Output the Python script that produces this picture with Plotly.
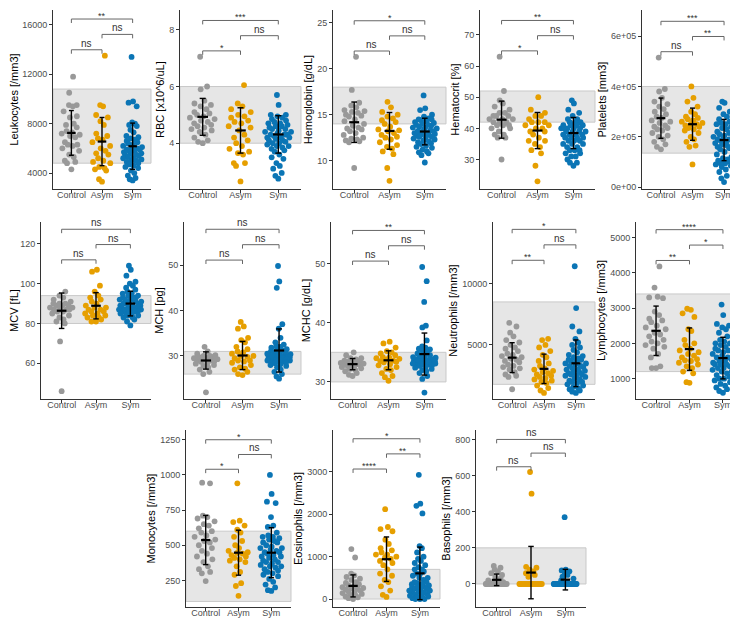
import numpy as np
import plotly.graph_objects as go

W, H = 738, 620
GROUPS = ["Control", "Asym", "Sym"]
GROUP_COLORS = ["#999999", "#E69F00", "#0B75B5"]
FONT = "Arial, Liberation Sans, sans-serif"

# ---------------- data ----------------
LEUK_CONTROL = [11800, 10500, 9500, 9500, 9400, 9000, 8600, 8500, 8000, 7900, 7700, 7400, 7300, 7200, 7100, 7000, 6900, 6500, 6300, 6300, 6200, 6000, 5800, 5500, 5300, 5000, 4900, 4800, 4300]
LEUK_ASYM = [13500, 9500, 9400, 8700, 8500, 8200, 7900, 7200, 7000, 6800, 6700, 6500, 6200, 6000, 5800, 5600, 5500, 5200, 5000, 4900, 4800, 4500, 4400, 4300, 4200, 3500, 3300]
LEUK_SYM = [13400, 9800, 9700, 9400, 8100, 8000, 7900, 7800, 7500, 7300, 7000, 6900, 6800, 6700, 6600, 6500, 6400, 6300, 6200, 6100, 6000, 6000, 5900, 5800, 5700, 5600, 5500, 5500, 5400, 5300, 5200, 5100, 5000, 5000, 4900, 4800, 4700, 4600, 4500, 4400, 4200, 4000, 3800, 3600, 3500, 3400, 5800, 5600, 5200, 5900]
LEUK_MEAN = [7250, 6550, 6170]
LEUK_SD = [1810, 1950, 1875]

RBC_CONTROL = [7.05, 6.0, 5.9, 5.5, 5.4, 5.35, 5.3, 5.2, 5.1, 5.05, 5.0, 4.95, 4.9, 4.85, 4.8, 4.75, 4.7, 4.65, 4.6, 4.55, 4.5, 4.45, 4.4, 4.3, 4.2, 4.1, 4.05, 4.0]
RBC_ASYM = [6.05, 5.4, 5.3, 5.2, 5.1, 5.0, 4.95, 4.9, 4.8, 4.7, 4.6, 4.55, 4.45, 4.3, 4.2, 4.1, 4.0, 3.9, 3.8, 3.7, 3.65, 3.6, 3.3, 3.3, 3.2, 2.65, 4.75]
RBC_SYM = [5.7, 5.35, 5.0, 5.0, 4.95, 4.9, 4.85, 4.8, 4.75, 4.7, 4.65, 4.6, 4.55, 4.5, 4.5, 4.45, 4.4, 4.4, 4.35, 4.3, 4.3, 4.25, 4.2, 4.2, 4.15, 4.1, 4.1, 4.05, 4.0, 4.0, 3.95, 3.9, 3.85, 3.8, 3.75, 3.7, 3.6, 3.5, 3.45, 3.3, 3.2, 3.1, 2.95, 2.85, 2.75, 4.6, 4.7, 4.3, 4.2, 3.9]
RBC_MEAN = [4.93, 4.45, 4.31]
RBC_SD = [0.65, 0.8, 0.66]

HGB_CONTROL = [21.3, 17.7, 16.3, 16.0, 15.8, 15.5, 15.4, 15.3, 15.2, 15.0, 14.8, 14.5, 14.3, 14.0, 13.8, 13.6, 13.4, 13.2, 13.0, 12.8, 12.5, 12.3, 12.2, 12.1, 12.0, 9.2, 14.9, 13.5, 12.4]
HGB_ASYM = [16.4, 15.8, 15.3, 15.0, 14.8, 14.6, 14.4, 14.0, 13.7, 13.4, 13.2, 13.0, 12.8, 12.5, 12.3, 12.0, 11.7, 11.5, 11.3, 11.0, 10.7, 9.2, 7.8, 14.2, 13.3, 12.6]
HGB_SYM = [17.1, 15.7, 15.5, 15.0, 14.8, 14.6, 14.5, 14.4, 14.3, 14.2, 14.0, 13.9, 13.8, 13.7, 13.6, 13.5, 13.4, 13.3, 13.2, 13.1, 13.0, 12.9, 12.8, 12.7, 12.6, 12.5, 12.4, 12.3, 12.2, 12.0, 11.9, 11.8, 11.6, 11.4, 11.2, 11.0, 10.8, 10.6, 9.8, 14.1, 13.9, 13.6, 13.2, 12.9, 12.6, 12.1, 11.5, 10.9, 14.5, 13.0]
HGB_MEAN = [14.18, 13.24, 13.17]
HGB_SD = [2.2, 2.0, 1.45]

HCT_CONTROL = [63, 52, 49, 48, 47, 46, 45, 45, 44, 44, 43, 43, 43, 42, 42, 42, 41, 41, 40, 40, 39, 38, 37, 37, 30, 44, 41, 38]
HCT_ASYM = [50, 46, 45, 44, 44, 43, 42, 42, 41, 41, 40, 40, 39, 38, 37, 36, 35, 34, 33, 32, 28, 23, 42, 39, 36]
HCT_SYM = [49, 48, 46, 45, 44, 43, 43, 42, 42, 42, 41, 41, 41, 40, 40, 40, 40, 39, 39, 39, 38, 38, 38, 37, 37, 37, 36, 36, 36, 35, 35, 34, 34, 33, 33, 32, 32, 31, 30, 29, 29, 28, 41, 40, 39, 37, 35, 33, 31, 38]
HCT_MEAN = [42.8, 39.3, 38.5]
HCT_SD = [5.95, 5.8, 5.0]

PLT_CONTROL = [515000, 390000, 380000, 355000, 340000, 330000, 320000, 300000, 290000, 280000, 275000, 265000, 255000, 245000, 240000, 235000, 225000, 215000, 205000, 200000, 190000, 180000, 170000, 160000, 150000, 310000, 260000, 230000]
PLT_ASYM = [400000, 355000, 340000, 320000, 300000, 290000, 280000, 270000, 265000, 260000, 255000, 250000, 245000, 240000, 235000, 230000, 225000, 215000, 200000, 190000, 180000, 165000, 160000, 90000, 275000, 250000]
PLT_SYM = [340000, 335000, 315000, 300000, 290000, 280000, 270000, 260000, 255000, 250000, 240000, 235000, 230000, 220000, 215000, 210000, 205000, 200000, 195000, 190000, 185000, 180000, 175000, 170000, 165000, 160000, 155000, 150000, 140000, 130000, 120000, 115000, 110000, 100000, 95000, 90000, 85000, 80000, 70000, 60000, 45000, 35000, 20000, 250000, 200000, 190000, 185000, 170000, 105000, 95000]
PLT_MEAN = [274000, 250000, 187000]
PLT_SD = [80000, 64000, 82000]

MCV_CONTROL = [96, 94, 93, 92, 91, 90, 90, 89, 89, 88, 88, 87, 87, 86, 86, 85, 84, 83, 82, 81, 80, 71, 46, 90, 89, 88, 87]
MCV_ASYM = [107, 106, 99, 96, 94, 93, 92, 91, 90, 89, 88, 87, 86, 86, 85, 84, 83, 83, 82, 81, 81, 88, 87, 85, 84]
MCV_SYM = [109, 107, 104, 101, 100, 99, 98, 97, 96, 95, 94, 93, 93, 92, 92, 91, 91, 90, 90, 89, 89, 88, 88, 88, 87, 87, 86, 86, 85, 85, 84, 83, 82, 81, 79, 90, 89, 88, 87, 86, 85, 84, 92, 93, 91, 94, 95, 87, 86, 83]
MCV_MEAN = [86.4, 88.9, 90.0]
MCV_SD = [8.9, 6.6, 6.2]

MCH_CONTROL = [32, 31, 30.5, 30, 30, 29.8, 29.5, 29.5, 29.3, 29, 29, 28.8, 28.5, 28.3, 28, 27.5, 27, 26.5, 26, 22, 29.7, 29.2, 28.7, 29.9, 30.2, 27.8]
MCH_ASYM = [37.5, 36.5, 36, 34, 33.5, 33, 32, 31.5, 31, 30.5, 30, 30, 29.5, 29, 29, 28.5, 28, 27.5, 27, 26.5, 26, 25.8, 30.8, 29.8, 28.8, 27.2]
MCH_SYM = [49.8, 46.4, 45, 37, 36, 34, 33, 32.5, 32, 31.8, 31.5, 31.3, 31, 30.8, 30.6, 30.4, 30.2, 30, 30, 29.8, 29.6, 29.4, 29.2, 29, 29, 28.8, 28.6, 28.4, 28.2, 28, 27.8, 27.5, 27, 26.5, 26, 25.5, 25, 30.1, 29.9, 29.5, 29.1, 30.5, 31.2, 30.3, 29.7, 28.9, 32.2, 30.9, 29.3, 28.5]
MCH_MEAN = [29.0, 30.1, 31.2]
MCH_SD = [1.9, 3.1, 4.75]

MCHC_CONTROL = [35, 34.5, 34, 34, 33.8, 33.5, 33.3, 33.2, 33, 33, 32.8, 32.6, 32.5, 32.3, 32, 31.8, 31.5, 31.2, 31, 33.1, 32.9, 33.4, 32.7, 33.6, 32.2]
MCHC_ASYM = [36.8, 36.5, 35.8, 35.2, 35, 34.8, 34.5, 34.2, 34, 33.8, 33.6, 33.5, 33.3, 33, 32.8, 32.5, 32.2, 32, 31.5, 31, 30.8, 30.2, 33.4, 33.9, 34.1]
MCHC_SYM = [49.4, 47, 43.5, 39.5, 39.2, 37, 36, 35.8, 35.5, 35.2, 35, 34.8, 34.5, 34.3, 34.1, 34, 33.9, 33.8, 33.7, 33.6, 33.5, 33.4, 33.3, 33.2, 33.1, 33, 32.9, 32.8, 32.6, 32.4, 32.2, 32, 31.8, 31.5, 31, 30.5, 28.2, 33.5, 33.6, 33.4, 33.2, 33.8, 34.2, 33.1, 32.7, 33, 34.4, 35.6]
MCHC_MEAN = [33.0, 33.65, 34.7]
MCHC_SD = [0.95, 1.6, 3.55]

NEUT_CONTROL = [6800, 6500, 6000, 5700, 5400, 5200, 5000, 4800, 4700, 4500, 4300, 4200, 4000, 3900, 3800, 3600, 3400, 3300, 3100, 3000, 2800, 2600, 2500, 2400, 1400, 4100, 3700, 3200]
NEUT_ASYM = [5500, 5400, 5000, 4800, 4500, 4200, 4000, 3700, 3500, 3300, 3100, 3000, 2900, 2800, 2700, 2600, 2500, 2400, 2300, 2200, 2100, 2000, 1900, 1700, 1500, 1300, 1100]
NEUT_SYM = [11400, 8000, 6500, 6100, 5500, 5200, 5000, 4800, 4600, 4400, 4200, 4000, 3900, 3800, 3700, 3600, 3500, 3400, 3300, 3200, 3100, 3000, 2900, 2800, 2700, 2600, 2500, 2400, 2300, 2200, 2100, 2000, 1900, 1800, 1700, 1600, 1500, 1400, 1300, 1100, 3500, 3000, 2500, 2000, 4100, 3300, 2800, 1200, 2600, 3800]
NEUT_MEAN = [3970, 3060, 3510]
NEUT_SD = [1215, 1195, 1900]

LYMPH_CONTROL = [4180, 3580, 3320, 3300, 3280, 2900, 2800, 2700, 2650, 2600, 2500, 2450, 2400, 2300, 2250, 2200, 2100, 2050, 2000, 1950, 1900, 1850, 1700, 1600, 1350, 1300, 1300]
LYMPH_ASYM = [2980, 2950, 2850, 2750, 2400, 2350, 2100, 2000, 1950, 1850, 1800, 1700, 1650, 1600, 1550, 1500, 1450, 1400, 1350, 1300, 1200, 1150, 900, 880, 1750, 1520]
LYMPH_SYM = [3100, 2800, 2550, 2500, 2450, 2400, 2300, 2200, 2100, 2050, 2000, 1950, 1900, 1850, 1800, 1750, 1700, 1650, 1600, 1550, 1500, 1450, 1400, 1400, 1350, 1300, 1250, 1200, 1150, 1100, 1050, 1000, 950, 900, 850, 800, 750, 700, 650, 600, 1600, 1500, 1400, 1300, 1200, 1700, 1450, 1000, 1800, 2000]
LYMPH_MEAN = [2356, 1837, 1582]
LYMPH_SD = [700, 600, 590]

MONO_CONTROL = [945, 940, 710, 700, 690, 670, 640, 620, 600, 590, 570, 560, 540, 520, 500, 480, 460, 440, 420, 400, 380, 350, 330, 310, 300, 245, 650, 530]
MONO_ASYM = [940, 675, 665, 640, 610, 590, 560, 530, 500, 480, 460, 450, 440, 430, 420, 410, 400, 390, 380, 350, 310, 290, 230, 210, 140, 445]
MONO_SYM = [1000, 865, 810, 800, 700, 640, 630, 590, 570, 560, 550, 540, 530, 520, 500, 490, 480, 470, 460, 450, 440, 430, 420, 410, 400, 390, 380, 370, 360, 350, 340, 330, 320, 300, 290, 280, 260, 240, 220, 200, 180, 175, 450, 420, 380, 350, 520, 480, 560, 310]
MONO_MEAN = [537, 447, 447]
MONO_SD = [175, 160, 178]

EOS_CONTROL = [1180, 980, 600, 560, 520, 480, 450, 400, 380, 350, 320, 300, 280, 260, 240, 220, 200, 180, 160, 140, 120, 100, 80, 60, 40, 20, 0, 250]
EOS_ASYM = [2120, 1700, 1650, 1600, 1400, 1300, 1200, 1150, 1100, 1050, 1000, 950, 900, 850, 800, 700, 600, 550, 450, 400, 300, 200, 100, 50, 1050, 980]
EOS_SYM = [2930, 2250, 2200, 2020, 1250, 1200, 1100, 1000, 950, 900, 850, 800, 750, 700, 650, 600, 550, 500, 450, 400, 380, 350, 320, 300, 280, 250, 220, 200, 180, 150, 120, 100, 80, 60, 40, 20, 0, 0, 0, 500, 400, 300, 200, 100, 700, 600, 250, 150, 50, 350]
EOS_MEAN = [310, 940, 606]
EOS_SD = [260, 525, 620]

BASO_CONTROL = [100, 90, 80, 70, 60, 50, 40, 30, 20, 10, 0, 0, 0, 0, 0, 0, 0, 0, 0, 0, 0, 0, 0, 0, 0, 0, 0, 0]
BASO_ASYM = [620, 500, 95, 90, 80, 70, 60, 50, 40, 0, 0, 0, 0, 0, 0, 0, 0, 0, 0, 0, 0, 0, 0, 0, 0, 0]
BASO_SYM = [370, 80, 75, 70, 60, 50, 40, 30, 20, 10, 0, 0, 0, 0, 0, 0, 0, 0, 0, 0, 0, 0, 0, 0, 0, 0, 0, 0, 0, 0, 0, 0, 0, 0, 0, 0, 0, 0, 0, 0, 0, 0, 0, 0, 0, 0, 0, 0, 0, 0]
BASO_MEAN = [23, 63, 24]
BASO_SD = [32, 145, 57]

TITLES = ["Leukocytes [/mm3]", "RBC [x10^6/uL]", "Hemoglobin [g/dL]", "Hematocrit [%]", "Platelets [mm3]",
          "MCV [fL]", "MCH [pg]", "MCHC [g/dL]", "Neutrophils [/mm3]", "Lymphocytes [/mm3]",
          "Monocytes [/mm3]", "Eosinophils [/mm3]", "Basophils [/mm3]"]
REF_RANGES = [[4800, 10800], [4, 6], [14, 18], [42, 52], [135000, 400000],
              [80, 94], [26, 31], [30, 35], [1800, 8500], [1200, 3400],
              [100, 600], [0, 700], [0, 200]]
SIG_LABELS = [["ns", "ns", "**"], ["*", "ns", "***"], ["ns", "ns", "*"], ["*", "ns", "**"], ["ns", "**", "***"],
              ["ns", "ns", "ns"], ["ns", "ns", "ns"], ["ns", "ns", "**"], ["**", "ns", "*"], ["**", "*", "****"],
              ["*", "ns", "*"], ["****", "**", "*"], ["ns", "ns", "ns"]]
SIG_PAIRS = [(1, 2), (2, 3), (1, 3)]
Y_RANGES = [[2700, 17200], [2.38, 8.7], [6.9, 26.4], [20.5, 78], [-8000, 704000],
            [42, 131], [20.5, 59.5], [27.1, 57], [600, 15000], [420, 5440],
            [60, 1320], [-190, 3990], [-128, 853]]
Y_TICKS = [[4000, 8000, 12000, 16000], [4, 6, 8], [10, 15, 20, 25], [30, 40, 50, 60, 70], [0, 200000, 400000, 600000],
           [60, 80, 100, 120], [30, 40, 50], [30, 40, 50], [5000, 10000], [1000, 2000, 3000, 4000, 5000],
           [250, 500, 750, 1000, 1250], [0, 1000, 2000, 3000], [0, 200, 400, 600, 800]]
Y_TICKTEXT = [None, None, None, None, ["0e+00", "2e+05", "4e+05", "6e+05"],
              None, None, None, None, None, None, None, None]

DATA = [
    (LEUK_CONTROL, LEUK_ASYM, LEUK_SYM, LEUK_MEAN, LEUK_SD),
    (RBC_CONTROL, RBC_ASYM, RBC_SYM, RBC_MEAN, RBC_SD),
    (HGB_CONTROL, HGB_ASYM, HGB_SYM, HGB_MEAN, HGB_SD),
    (HCT_CONTROL, HCT_ASYM, HCT_SYM, HCT_MEAN, HCT_SD),
    (PLT_CONTROL, PLT_ASYM, PLT_SYM, PLT_MEAN, PLT_SD),
    (MCV_CONTROL, MCV_ASYM, MCV_SYM, MCV_MEAN, MCV_SD),
    (MCH_CONTROL, MCH_ASYM, MCH_SYM, MCH_MEAN, MCH_SD),
    (MCHC_CONTROL, MCHC_ASYM, MCHC_SYM, MCHC_MEAN, MCHC_SD),
    (NEUT_CONTROL, NEUT_ASYM, NEUT_SYM, NEUT_MEAN, NEUT_SD),
    (LYMPH_CONTROL, LYMPH_ASYM, LYMPH_SYM, LYMPH_MEAN, LYMPH_SD),
    (MONO_CONTROL, MONO_ASYM, MONO_SYM, MONO_MEAN, MONO_SD),
    (EOS_CONTROL, EOS_ASYM, EOS_SYM, EOS_MEAN, EOS_SD),
    (BASO_CONTROL, BASO_ASYM, BASO_SYM, BASO_MEAN, BASO_SD),
]

# panel plot-area boxes in pixels: left, right, top, bottom
BOXES = [(45, 143, 2, 182), (172, 293, 2, 182), (325, 438, 2, 182), (472, 587, 2, 182), (634, 735, 2, 182),
         (33, 143, 215, 393), (176, 293, 215, 393), (323, 438, 215, 393), (485, 587, 215, 393), (628, 735, 215, 393),
         (178, 283, 424, 602), (325, 432, 424, 602), (468, 578, 424, 602)]


def vdc(k, base=2):
    r, f = 0.0, 1.0 / base
    while k:
        r += (k % base) * f
        k //= base
        f /= base
    return r


def jitter(values, span, width=0.36):
    v = np.asarray(values, float)
    order = np.argsort(v, kind="stable")
    h = 0.035 * span
    dens = np.array([(np.abs(v - x) <= h).sum() for x in v], float)
    dens = dens / dens.max()
    w = width * np.sqrt(dens)
    u = np.empty(len(v))
    for rank, idx in enumerate(order):
        u[idx] = 2 * vdc(rank + 1) - 1
    return w * u


fig = go.Figure()
layout = dict(width=W, height=H, margin=dict(l=0, r=0, t=0, b=0),
              paper_bgcolor="white", plot_bgcolor="white", showlegend=False,
              font=dict(family=FONT), shapes=[], annotations=[])

TICKFONT = dict(size=9, color="#4d4d4d", family=FONT)

for p in range(13):
    n = p + 1
    xname = "x" if n == 1 else f"x{n}"
    yname = "y" if n == 1 else f"y{n}"
    ctrl, asym, sym, means, sds = DATA[p]
    groups = [ctrl, asym, sym]
    yr = Y_RANGES[p]
    yspan = yr[1] - yr[0]
    left, right, top, bottom = BOXES[p]

    layout["xaxis" if n == 1 else f"xaxis{n}"] = dict(
        domain=[left / W, right / W], range=[0.4, 3.6], anchor=yname,
        tickmode="array", tickvals=[1, 2, 3], ticktext=GROUPS, tickangle=0,
        ticklabelstandoff=-6,
        showline=True, linecolor="#333333", linewidth=1, ticks="outside", ticklen=3,
        tickcolor="#333333", tickfont=TICKFONT,
        showgrid=False, zeroline=False, fixedrange=True)
    layout["yaxis" if n == 1 else f"yaxis{n}"] = dict(
        domain=[1 - bottom / H, 1 - top / H], range=yr, anchor=xname,
        tickmode="array", tickvals=Y_TICKS[p],
        ticktext=Y_TICKTEXT[p] if Y_TICKTEXT[p] else [f"{t:g}" for t in Y_TICKS[p]],
        showline=True, linecolor="#333333", linewidth=1, ticks="outside", ticklen=3,
        tickcolor="#333333", tickfont=TICKFONT,
        showgrid=False, zeroline=False, fixedrange=True,
        title=dict(text=TITLES[p], font=dict(size=11, color="black", family=FONT), standoff=2))

    # reference band
    layout["shapes"].append(dict(type="rect", xref=f"{xname} domain", x0=0, x1=1,
                                 yref=yname, y0=REF_RANGES[p][0], y1=REF_RANGES[p][1],
                                 fillcolor="#E6E6E6", line=dict(color="#C9C9C9", width=1), layer="below"))

    # points
    allv = np.concatenate([np.asarray(g, float) for g in groups])
    for gi, vals in enumerate(groups):
        xs = (gi + 1) + jitter(vals, yspan)
        fig.add_trace(go.Scatter(x=xs, y=vals, mode="markers", xaxis=xname, yaxis=yname,
                                 marker=dict(color=GROUP_COLORS[gi], size=5.8, line=dict(width=0)),
                                 hoverinfo="skip"))

    # mean +/- sd bars
    for gi in range(3):
        xc = gi + 1
        m, s = means[gi], sds[gi]
        cap = 0.08
        bx = [xc, xc, None, xc - cap, xc + cap, None, xc - cap, xc + cap]
        by = [m - s, m + s, None, m + s, m + s, None, m - s, m - s]
        fig.add_trace(go.Scatter(x=bx, y=by, mode="lines", xaxis=xname, yaxis=yname,
                                 line=dict(color="black", width=1.4), hoverinfo="skip"))
        fig.add_trace(go.Scatter(x=[xc - 0.14, xc + 0.14], y=[m, m], mode="lines", xaxis=xname, yaxis=yname,
                                 line=dict(color="black", width=2.2), hoverinfo="skip"))

    # significance brackets
    dmax, dmin = allv.max(), allv.min()
    dspan = dmax - dmin
    tip = 0.022 * yspan
    for k, (a, b) in enumerate(SIG_PAIRS):
        yb = dmax + dspan * (0.047 + 0.122 * k)
        fig.add_trace(go.Scatter(x=[a, a, b, b], y=[yb - tip, yb, yb, yb - tip], mode="lines",
                                 xaxis=xname, yaxis=yname, line=dict(color="#666666", width=1),
                                 hoverinfo="skip"))
        lab = SIG_LABELS[p][k]
        layout["annotations"].append(dict(x=(a + b) / 2, y=yb, xref=xname, yref=yname, text=lab,
                                          showarrow=False, yanchor="bottom", yshift=-1 if lab == "ns" else -4,
                                          font=dict(size=10 if lab == "ns" else 9, color="#333333", family=FONT)))

fig.update_layout(**layout)
fig.write_html("out.html")
